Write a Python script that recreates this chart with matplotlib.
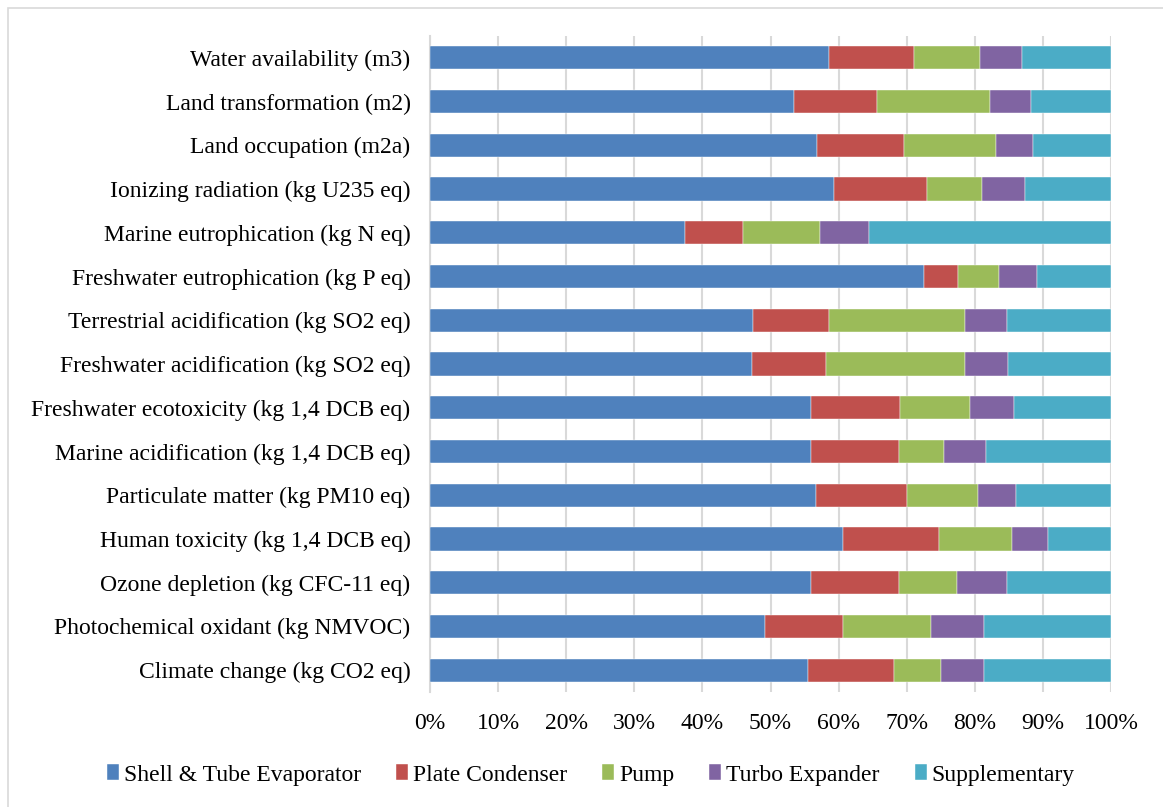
import numpy as np
import matplotlib.pyplot as plt
from matplotlib.patches import Rectangle

# impact categories, top to bottom
categories = [
    "Water availability (m3)",
    "Land transformation (m2)",
    "Land occupation (m2a)",
    "Ionizing radiation (kg U235 eq)",
    "Marine eutrophication (kg N eq)",
    "Freshwater eutrophication (kg P eq)",
    "Terrestrial acidification (kg SO2 eq)",
    "Freshwater acidification (kg SO2 eq)",
    "Freshwater ecotoxicity (kg 1,4 DCB eq)",
    "Marine acidification (kg 1,4 DCB eq)",
    "Particulate matter (kg PM10 eq)",
    "Human toxicity (kg 1,4 DCB eq)",
    "Ozone depletion (kg CFC-11 eq)",
    "Photochemical oxidant (kg NMVOC)",
    "Climate change (kg CO2 eq)",
]

# share of each component (%), same order as categories
shell_tube = [58.6, 53.4, 56.9, 59.3, 37.4, 72.5, 47.5, 47.3, 55.9, 55.9, 56.7, 60.7, 55.9, 49.2, 55.5]
plate_cond = [12.4, 12.2, 12.7, 13.7, 8.5, 5.1, 11.1, 10.9, 13.1, 12.9, 13.3, 14.1, 12.9, 11.5, 12.7]
pump = [9.7, 16.6, 13.5, 8.0, 11.3, 6.0, 20.0, 20.4, 10.3, 6.7, 10.5, 10.6, 8.6, 12.9, 6.8]
turbo = [6.2, 6.0, 5.4, 6.3, 7.3, 5.5, 6.2, 6.3, 6.4, 6.2, 5.5, 5.3, 7.4, 7.7, 6.4]
supplementary = [13.1, 11.8, 11.5, 12.7, 35.5, 10.9, 15.2, 15.1, 14.3, 18.3, 14.0, 9.3, 15.2, 18.7, 18.6]

series = [
    ("Shell & Tube Evaporator", shell_tube, "#4F81BD"),
    ("Plate Condenser", plate_cond, "#C0504D"),
    ("Pump", pump, "#9BBB59"),
    ("Turbo Expander", turbo, "#8064A2"),
    ("Supplementary", supplementary, "#4BACC6"),
]

plt.rcParams["font.family"] = ["Liberation Serif", "DejaVu Serif"]
FS = 17

fig = plt.figure(figsize=(11.63, 8.07), dpi=100)
ax = fig.add_axes([430 / 1163, 1 - 692 / 807, 681 / 1163, 656 / 807])

y = np.arange(len(categories))[::-1]
totals = np.sum([s[1] for s in series], axis=0)
left = np.zeros(len(categories))
for name, vals, color in series:
    w = np.array(vals) / totals * 100
    ax.barh(y, w, left=left, height=0.53, color=color, label=name,
            edgecolor="white", linewidth=0.3, zorder=3)
    left += w

ax.set_xlim(0, 100)
ax.set_ylim(-0.5, len(categories) - 0.5)
ax.set_yticks(y)
ax.set_yticklabels(categories, fontsize=FS)
ax.set_xticks(np.arange(0, 101, 10))
ax.set_xticklabels([f"{v}%" for v in range(0, 101, 10)], fontsize=FS)
ax.tick_params(axis="both", length=0)
ax.tick_params(axis="y", pad=14)
ax.tick_params(axis="x", pad=15)
ax.grid(axis="x", color="#D9D9D9", linewidth=1.5, zorder=0)
for side in ("top", "right", "bottom"):
    ax.spines[side].set_visible(False)
ax.spines["left"].set_color("#D9D9D9")
ax.spines["left"].set_linewidth(1.5)

fig.legend(loc="center", bbox_to_anchor=(0.508, 1 - 775 / 807), ncol=5,
           frameon=False, fontsize=FS, handlelength=0.5, handleheight=0.65,
           handletextpad=0.2, columnspacing=1.5)

# light frame around the whole chart area
fig.patches.append(Rectangle((8 / 1163, -0.01), 1.02, 1 - 8 / 807 + 0.01,
                             transform=fig.transFigure, fill=False,
                             edgecolor="#D9D9D9", linewidth=1.2))

fig.savefig("out.png", dpi=100)
